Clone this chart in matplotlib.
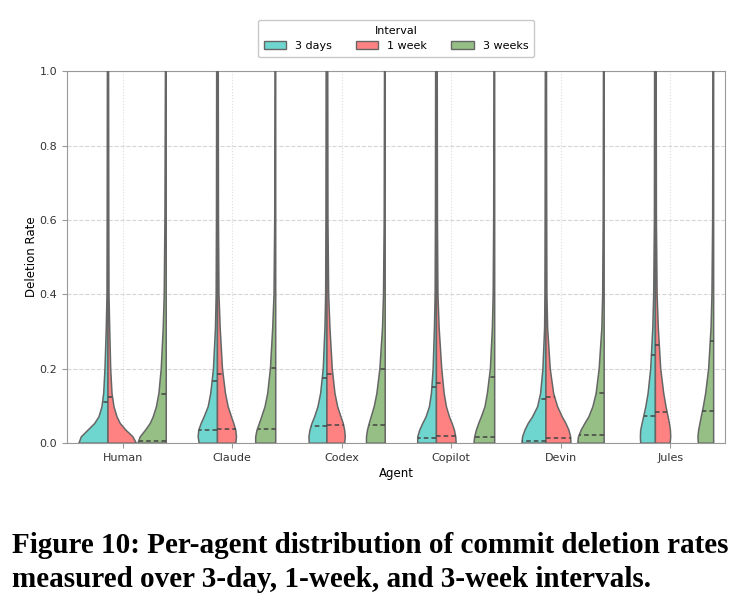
import numpy as np
import matplotlib.pyplot as plt
from matplotlib.patches import Patch

# data
agents = ['Human', 'Claude', 'Codex', 'Copilot', 'Devin', 'Jules']
intervals = ['3 days', '1 week', '3 weeks']

# y levels at which the violin half-widths were read (deletion rate)
levels = [0, 0.017, 0.035, 0.053, 0.071, 0.098, 0.134, 0.2, 0.31, 0.4, 0.6, 1.0]

# half-widths of each half violin (density profile, in pixels of the reference)
width_3d = [
    [29, 26.7, 20, 13.3, 9, 6, 4.3, 3, 1.7, 1.0, 0.8, 0.6],
    [18.3, 19.3, 18.7, 16.3, 13.3, 9.3, 6.7, 4, 2, 1.3, 1.0, 0.8],
    [17.7, 18, 17, 15, 12.3, 9, 6.3, 3.7, 2, 1.3, 1.0, 0.8],
    [18.7, 18.7, 16.7, 13.7, 10.3, 7, 5, 3.3, 2, 1.3, 1.0, 0.8],
    [24, 23.3, 21, 17.7, 13.3, 8.3, 5.3, 3, 1.3, 1.0, 0.8, 0.6],
    [14.7, 15, 14.7, 13.3, 11.8, 9.6, 7.3, 4.7, 2.6, 1.7, 1.0, 0.8],
]
width_1w = [
    [28.3, 25, 18, 12.3, 9, 6, 4, 2.7, 1.7, 1.0, 0.8, 0.6],
    [18.3, 19, 18.3, 16.3, 14, 10.7, 8, 5, 2.7, 1.5, 1.0, 0.8],
    [17.7, 18.3, 17.7, 16.3, 14, 10.7, 8, 5.3, 3, 1.7, 1.0, 0.8],
    [19.7, 19.3, 18, 15.7, 13, 10, 7.7, 5.3, 2.7, 1.5, 1.0, 0.8],
    [25, 24.7, 23, 20, 16.3, 11.7, 7.7, 4.3, 1.7, 1.0, 0.8, 0.6],
    [14.7, 15.3, 15, 14, 12.7, 10.6, 8.3, 5.3, 2.9, 1.7, 1.0, 0.8],
]
width_3w = [
    [28.3, 26, 20.7, 16, 13, 9.8, 7.3, 5, 3, 2, 1.3, 0.8],
    [20, 20, 18.7, 16.3, 14, 10.7, 8, 5.3, 3, 1.7, 1.0, 0.7],
    [18.7, 18.7, 17.7, 16, 14, 11, 8.3, 5.3, 2.7, 1.7, 1.0, 0.7],
    [20.7, 20, 18.3, 16, 13.3, 9.7, 7.3, 4.3, 2.3, 1.5, 1.0, 0.7],
    [26.3, 25.7, 23, 19.3, 15.3, 11.3, 8, 5, 2.3, 1.5, 1.0, 0.7],
    [15.3, 15.7, 15, 13.7, 12.4, 10.3, 8, 5, 2.6, 1.7, 1.0, 0.7],
]

# median and upper quartile (lower quartile sits at 0)
median_3d = [0.0, 0.035, 0.047, 0.015, 0.007, 0.073]
median_1w = [0.0, 0.037, 0.049, 0.020, 0.014, 0.084]
median_3w = [0.007, 0.039, 0.050, 0.017, 0.021, 0.086]
q3_3d = [0.111, 0.168, 0.174, 0.150, 0.119, 0.237]
q3_1w = [0.125, 0.185, 0.185, 0.163, 0.125, 0.263]
q3_3w = [0.131, 0.203, 0.199, 0.177, 0.135, 0.274]

colors = ['#6fd6cf', '#ff8282', '#95bf84']
edge = '#666666'
px_per_unit = 109.4  # x-axis pixels per category in the reference

plt.rcParams['font.family'] = 'DejaVu Sans'
fig = plt.figure(figsize=(7.52, 6.03), dpi=100)
ax = fig.add_axes([0.089, 0.265, 0.875, 0.617])


def half_violin(center, widths, side, color, med, q3):
    y = np.array(levels)
    w = np.array(widths) / px_per_unit
    xs = center + side * w
    px = np.concatenate([xs, [center, center]])
    py = np.concatenate([y, [1.0, 0.0]])
    ax.fill(px, py, facecolor=color, edgecolor=edge, lw=1.1, zorder=3,
            joinstyle='round')
    for q in (med, q3):
        if q <= 0:
            continue
        hw = np.interp(q, y, w)
        ax.plot([center, center + side * hw], [q, q], color='#444444',
                lw=1.1, ls=(0, (3, 2)), zorder=4)


x = np.arange(len(agents))
for i in x:
    c1 = i - 0.135
    c2 = i + 0.397
    half_violin(c1, width_3d[i], -1, colors[0], median_3d[i], q3_3d[i])
    half_violin(c1, width_1w[i], 1, colors[1], median_1w[i], q3_1w[i])
    half_violin(c2, width_3w[i], -1, colors[2], median_3w[i], q3_3w[i])

ax.set_xlim(-0.51, 5.5)
ax.set_ylim(0, 1.0)
ax.set_xticks(x)
ax.set_xticklabels(agents, fontsize=8)
ax.set_yticks(np.arange(0, 1.01, 0.2))
ax.set_yticklabels([f'{v:.1f}' for v in np.arange(0, 1.01, 0.2)], fontsize=8)
ax.set_xlabel('Agent', fontsize=8.5, labelpad=3)
ax.set_ylabel('Deletion Rate', fontsize=8.5, labelpad=1)
ax.grid(axis='y', ls='--', color='#cccccc', lw=0.8, alpha=0.8, zorder=0)
ax.grid(axis='x', ls=':', color='#dddddd', lw=0.8, zorder=0)
ax.set_axisbelow(True)
for s in ax.spines.values():
    s.set_color('#999999')
ax.tick_params(colors='#333333', length=3.5, color='#999999')

handles = [Patch(facecolor=c, edgecolor=edge, label=l) for c, l in zip(colors, intervals)]
ax.legend(handles=handles, title='Interval', ncol=3, loc='lower center',
          bbox_to_anchor=(0.5, 1.037), borderaxespad=0, fontsize=8,
          title_fontsize=8, frameon=True, edgecolor='#bbbbbb', columnspacing=2.2,
          borderpad=0.55)

caption = ['Figure 10: Per-agent distribution of commit deletion rates',
           'measured over 3-day, 1-week, and 3-week intervals.']
for line, yb in zip(caption, [0.083, 0.0265]):
    fig.text(0.016, yb, line, fontsize=21, fontweight='bold',
             family='Liberation Serif', ha='left', va='baseline')

fig.savefig('out.png', dpi=100)
